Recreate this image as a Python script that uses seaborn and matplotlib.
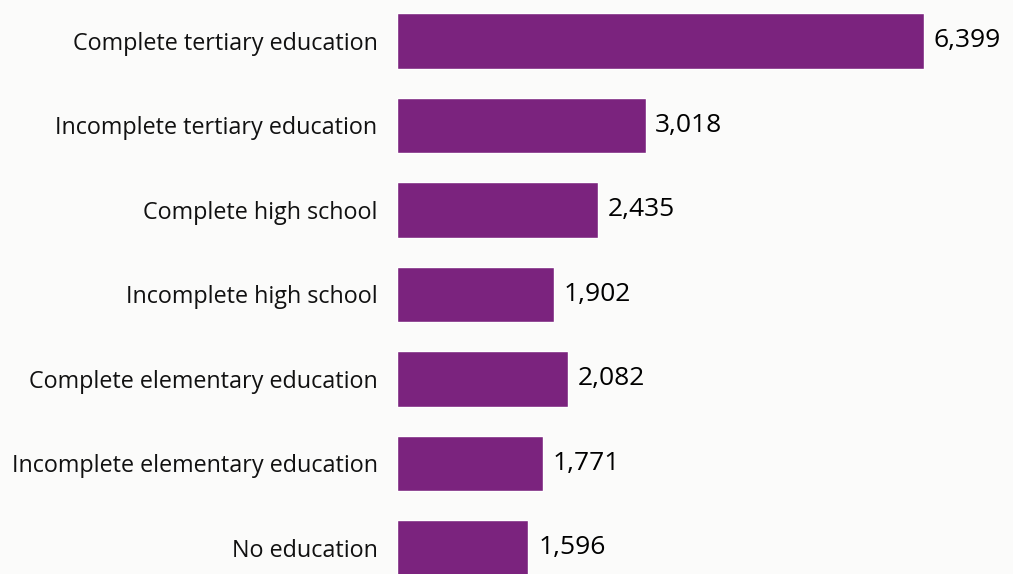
import matplotlib
matplotlib.use("Agg")
import matplotlib.pyplot as plt
import seaborn as sns
import pandas as pd

categories = [
    "Complete tertiary education",
    "Incomplete tertiary education",
    "Complete high school",
    "Incomplete high school",
    "Complete elementary education",
    "Incomplete elementary education",
    "No education",
]
values = [6399, 3018, 2435, 1902, 2082, 1771, 1596]

df = pd.DataFrame({"level": categories, "value": values})

sns.set_style("white")
plt.rcParams["font.family"] = ["Open Sans", "DejaVu Sans"]

bg = "#fbfbfa"
fig = plt.figure(figsize=(10.13, 5.74), dpi=100, facecolor=bg)
ax = fig.add_axes([397 / 1013, 0, 1 - 397 / 1013, 1])
ax.set_facecolor(bg)

sns.barplot(data=df, x="value", y="level", orient="h", color="#7b237e",
            saturation=1, width=0.66, ax=ax)

ax.set_xlim(0, 7479)
ax.set_ylim(6.308, -0.485)
ax.bar_label(ax.containers[0], labels=[f"{v:,}" for v in values],
             padding=7, fontsize=19, color="black")

ax.set_xlabel("")
ax.set_ylabel("")
ax.set_xticks([])
ax.tick_params(axis="y", length=0, pad=14, labelsize=16.8, labelcolor="#111111")
sns.despine(ax=ax, left=True, bottom=True)

plt.savefig("out.png", dpi=100, facecolor=bg)
